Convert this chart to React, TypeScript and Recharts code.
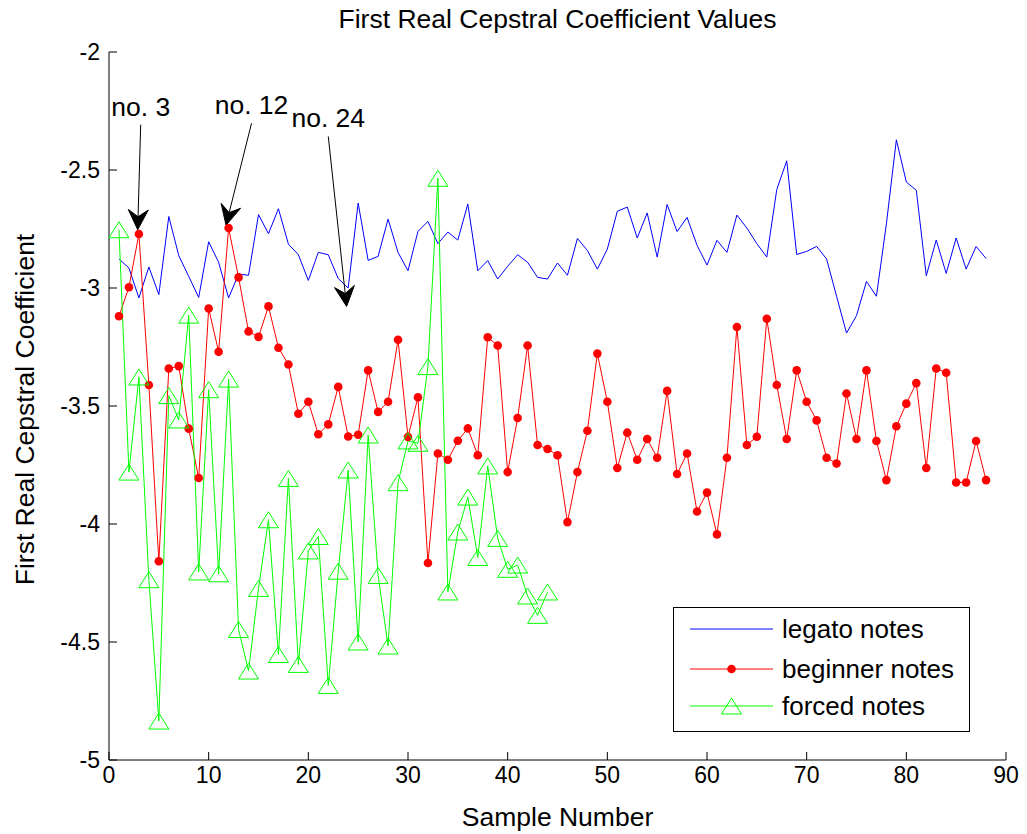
import React from 'react';
import {
  ComposedChart,
  Line,
  XAxis,
  YAxis,
  ReferenceLine,
  Legend,
} from 'recharts';

const FONT = "Arial, 'Liberation Sans', Helvetica, sans-serif";

// sample 1..88
const legato = [
  -2.877, -2.915, -3.042, -2.911, -3.028, -2.697, -2.863, -2.951, -3.04, -2.804,
  -2.891, -3.042, -2.941, -2.946, -2.689, -2.77, -2.664, -2.814, -2.859, -2.968,
  -2.849, -2.859, -2.96, -3.0, -2.64, -2.883, -2.866, -2.708, -2.849, -2.927,
  -2.76, -2.718, -2.812, -2.763, -2.797, -2.644, -2.927, -2.884, -2.962, -2.908,
  -2.859, -2.891, -2.955, -2.962, -2.894, -2.946, -2.79, -2.841, -2.92, -2.835,
  -2.675, -2.657, -2.788, -2.682, -2.869, -2.646, -2.761, -2.701, -2.819, -2.903,
  -2.798, -2.849, -2.691, -2.746, -2.812, -2.869, -2.583, -2.461, -2.858, -2.845,
  -2.824, -2.877, -3.035, -3.191, -3.117, -2.972, -3.035, -2.728, -2.372, -2.551,
  -2.586, -2.948, -2.797, -2.938, -2.788, -2.92, -2.824, -2.875,
];

const beginner = [
  -3.12, -2.997, -2.771, -3.411, -4.158, -3.341, -3.331, -3.596, -3.805, -3.087,
  -3.27, -2.746, -2.955, -3.184, -3.207, -3.078, -3.253, -3.324, -3.533, -3.482,
  -3.62, -3.578, -3.419, -3.629, -3.622, -3.349, -3.525, -3.482, -3.219, -3.631,
  -3.463, -4.165, -3.701, -3.728, -3.647, -3.595, -3.709, -3.209, -3.244, -3.78,
  -3.551, -3.244, -3.665, -3.682, -3.709, -3.992, -3.78, -3.605, -3.278, -3.482,
  -3.763, -3.613, -3.728, -3.64, -3.719, -3.436, -3.788, -3.701, -3.947, -3.867,
  -4.044, -3.719, -3.165, -3.665, -3.63, -3.13, -3.411, -3.64, -3.349, -3.482,
  -3.561, -3.719, -3.744, -3.447, -3.64, -3.349, -3.648, -3.814, -3.586, -3.49,
  -3.403, -3.763, -3.341, -3.359, -3.824, -3.824, -3.648, -3.814,
];

// only 44 forced samples
const forced = [
  -2.753, -3.78, -3.377, -4.236, -4.835, -3.456, -3.559, -3.115, -4.203, -3.431,
  -4.211, -3.386, -4.447, -4.623, -4.273, -3.982, -4.553, -3.807, -4.595, -4.114,
  -4.053, -4.684, -4.2, -3.771, -4.5, -3.623, -4.218, -4.517, -3.825, -3.648,
  -3.658, -3.333, -2.535, -4.288, -4.034, -3.886, -4.142, -3.754, -4.061, -4.192,
  -4.174, -4.305, -4.387, -4.288,
];

const xTicks = [0, 10, 20, 30, 40, 50, 60, 70, 80, 90];
const yTicks = [-5, -4.5, -4, -3.5, -3, -2.5, -2];

const notes = [
  { label: 'no. 3', from: { x: 3.18, y: -2.308 }, to: { x: 2.88, y: -2.753 } },
  { label: 'no. 12', from: { x: 14.3, y: -2.302 }, to: { x: 11.74, y: -2.734 } },
  { label: 'no. 24', from: { x: 22.0, y: -2.358 }, to: { x: 23.84, y: -3.078 } },
];

const rows = legato.map((v, i) => ({
  n: i + 1,
  legato: v,
  beginner: beginner[i],
  forced: i < forced.length ? forced[i] : null,
}));

const TriangleDot = (props: any) => {
  const { cx, cy, value, index } = props;
  if (value == null || cx == null || cy == null) return <g key={`t-${index}`} />;
  const pts = `${cx},${cy - 8} ${cx - 10},${cy + 8} ${cx + 10},${cy + 8}`;
  return <polygon key={`t-${index}`} points={pts} fill="none" stroke="#00ff00" strokeWidth={1} />;
};

const makeArrow = (label: string) => (props: any) => {
  const { x1, y1, x2, y2 } = props;
  if (x1 == null) return <g />;
  const dx = x2 - x1;
  const dy = y2 - y1;
  const len = Math.sqrt(dx * dx + dy * dy);
  const ux = dx / len;
  const uy = dy / len;
  const nx = -uy;
  const ny = ux;
  const bx = x2 - ux * 20;
  const by = y2 - uy * 20;
  const mx = x2 - ux * 13;
  const my = y2 - uy * 13;
  const head = `${x2},${y2} ${bx + nx * 10},${by + ny * 10} ${mx},${my} ${bx - nx * 10},${by - ny * 10}`;
  return (
    <g>
      <line x1={x1} y1={y1} x2={mx} y2={my} stroke="#000" strokeWidth={1} />
      <polygon points={head} fill="#000" stroke="#000" strokeWidth={1} />
      <text x={x1} y={y1 - 9} textAnchor="middle" fontSize={26.5} fontFamily={FONT} fill="#000">
        {label}
      </text>
    </g>
  );
};

const legendRows = [
  { name: 'legato notes', color: '#0000ff', mark: 'none' },
  { name: 'beginner notes', color: '#ff0000', mark: 'dot' },
  { name: 'forced notes', color: '#00ff00', mark: 'tri' },
];

const LegendBox = () => (
  <svg width={297} height={125} style={{ display: 'block' }}>
    <rect x={0.5} y={0.5} width={296} height={124} fill="#fff" stroke="#000" strokeWidth={1} />
    {legendRows.map((r, i) => {
      const cy = [22, 62, 99][i];
      return (
        <g key={r.name}>
          <line x1={17} y1={cy} x2={100} y2={cy} stroke={r.color} strokeWidth={1} />
          {r.mark === 'dot' && <circle cx={58.5} cy={cy} r={4.3} fill={r.color} />}
          {r.mark === 'tri' && (
            <polygon
              points={`${58.5},${cy - 8} ${48.5},${cy + 8} ${68.5},${cy + 8}`}
              fill="none"
              stroke={r.color}
              strokeWidth={1}
            />
          )}
          <text x={109} y={cy} dy="0.36em" fontSize={26} fontFamily={FONT} fill="#000">
            {r.name}
          </text>
        </g>
      );
    })}
  </svg>
);

const tickStyle = { fontSize: 23, fill: '#000', fontFamily: FONT };

export default function App() {
  return (
    <div
      style={{
        position: 'absolute',
        left: 0,
        top: 0,
        width: 1027,
        height: 834,
        background: '#fff',
        fontFamily: FONT,
      }}
    >
      <div
        style={{
          position: 'absolute',
          left: 0,
          width: 1115,
          top: 7,
          textAlign: 'center',
          fontSize: 26.5,
          lineHeight: '25px',
          whiteSpace: 'nowrap',
        }}
      >
        First Real Cepstral Coefficient Values
      </div>
      <div
        style={{
          position: 'absolute',
          left: 0,
          width: 1115,
          top: 805,
          textAlign: 'center',
          fontSize: 26.5,
          lineHeight: '25px',
          whiteSpace: 'nowrap',
        }}
      >
        Sample Number
      </div>
      <div
        style={{
          position: 'absolute',
          left: 25 - 250,
          top: 409 - 12.5,
          width: 500,
          height: 25,
          textAlign: 'center',
          fontSize: 26.5,
          lineHeight: '25px',
          whiteSpace: 'nowrap',
          transform: 'rotate(-90deg)',
        }}
      >
        First Real Cepstral Coefficient
      </div>
      <ComposedChart
        width={1027}
        height={834}
        data={rows}
        margin={{ top: 52, right: 21, bottom: 0, left: 0 }}
        style={{ position: 'absolute', left: 0, top: 0 }}
      >
        <XAxis
          type="number"
          dataKey="n"
          domain={[0, 90]}
          ticks={xTicks}
          interval={0}
          height={74}
          tickSize={-8}
          tickMargin={15}
          stroke="#000"
          tick={tickStyle}
        />
        <XAxis
          xAxisId="top"
          orientation="top"
          type="number"
          domain={[0, 90]}
          ticks={xTicks}
          interval={0}
          height={0}
          tickSize={-8}
          tickFormatter={() => ''}
          stroke="#000"
        />
        <YAxis
          type="number"
          domain={[-5, -2]}
          ticks={yTicks}
          interval={0}
          width={109}
          tickSize={-8}
          tickMargin={17}
          stroke="#000"
          tick={tickStyle}
        />
        <YAxis
          yAxisId="right"
          orientation="right"
          type="number"
          domain={[-5, -2]}
          ticks={yTicks}
          interval={0}
          width={0}
          tickSize={-8}
          tickFormatter={() => ''}
          stroke="#000"
        />
        <Legend
          layout="horizontal"
          verticalAlign="middle"
          align="center"
          content={() => <LegendBox />}
          wrapperStyle={{ left: 673, top: 607, width: 297, height: 125 }}
        />
        <Line
          dataKey="legato"
          stroke="#0000ff"
          strokeWidth={1}
          dot={false}
          activeDot={false}
          isAnimationActive={false}
        />
        <Line
          dataKey="beginner"
          stroke="#ff0000"
          strokeWidth={1}
          dot={{ r: 4.3, fill: '#ff0000', stroke: '#ff0000', strokeWidth: 0 }}
          activeDot={false}
          isAnimationActive={false}
        />
        <Line
          dataKey="forced"
          stroke="#00ff00"
          strokeWidth={1}
          dot={TriangleDot}
          activeDot={false}
          connectNulls={false}
          isAnimationActive={false}
        />
        {notes.map((a) => (
          <ReferenceLine
            key={a.label}
            segment={[a.from, a.to]}
            ifOverflow="visible"
            shape={makeArrow(a.label)}
          />
        ))}
      </ComposedChart>
    </div>
  );
}
